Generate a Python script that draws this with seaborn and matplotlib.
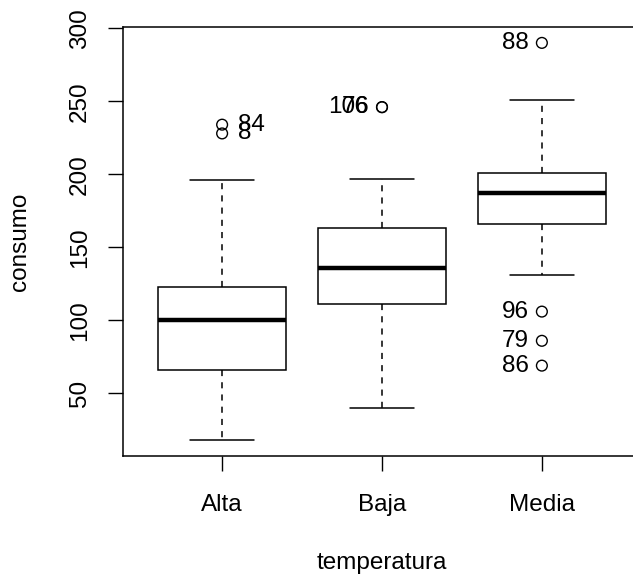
import matplotlib
matplotlib.use("Agg")
import matplotlib.pyplot as plt
import seaborn as sns
import pandas as pd

# ---- data ----
categorias = ["Alta", "Baja", "Media"]
minimo  = [18, 40, 131]
q1      = [66, 111, 166]
mediana = [100, 136, 187]
q3      = [123, 163, 201]
maximo  = [196, 197, 251]

out_cat   = ["Alta", "Alta", "Baja", "Baja", "Media", "Media", "Media", "Media"]
out_val   = [234, 228, 246, 246, 290, 106, 86, 69]
out_label = ["84", "8", "106", "76", "88", "96", "79", "86"]
out_side  = ["right", "right", "left", "left", "left", "left", "left", "left"]

yticks = [50, 100, 150, 200, 250, 300]

# ---- figure ----
sns.set_style("white")
plt.rcParams["font.family"] = ["Liberation Sans", "DejaVu Sans"]
FS = 17.5

W, H = 633, 575
fig = plt.figure(figsize=(W / 100, H / 100), dpi=100)
left, bottom, top = 123, 456, 27
axw = 518
ax = fig.add_axes([left / W, 1 - bottom / H, axw / W, (bottom - top) / H])

rows = []
for c, a, b, m, d, e in zip(categorias, minimo, q1, mediana, q3, maximo):
    for v in (a, b, m, d, e):
        rows.append({"temperatura": c, "consumo": v})
df = pd.DataFrame(rows)

sns.boxplot(data=df, x="temperatura", y="consumo", order=categorias,
            whis=(0, 100), showfliers=False, width=0.8,
            color="white", saturation=1, linecolor="black", linewidth=1.1,
            medianprops=dict(linewidth=3.2),
            whiskerprops=dict(linestyle=(0, (4, 4))),
            ax=ax)

pos = [categorias.index(c) for c in out_cat]
sns.scatterplot(x=pos, y=out_val, marker="o", s=60, facecolor="none",
                edgecolor="black", linewidth=1.0, legend=False, ax=ax, zorder=5)

for p, v, lab, side in zip(pos, out_val, out_label, out_side):
    if side == "right":
        ax.annotate(lab, (p, v), xytext=(16, 0), textcoords="offset pixels",
                    ha="left", va="center", fontsize=FS, color="black")
    else:
        ax.annotate(lab, (p, v), xytext=(-13, 0), textcoords="offset pixels",
                    ha="right", va="center", fontsize=FS, color="black")

allv = minimo + maximo + out_val
lo, hi = min(allv), max(allv)
pad = 0.04 * (hi - lo)
ax.set_ylim(lo - pad, hi + pad)
ax.set_xlim(-0.62, 2.62)

ax.set_yticks(yticks)
ax.set_yticklabels([str(t) for t in yticks])
ax.set_xticks(range(len(categorias)))
ax.set_xticklabels(categorias)

ax.tick_params(axis="both", direction="out", length=11, width=1.0,
               color="black", labelsize=FS, labelcolor="black",
               bottom=True, left=True, top=False, right=False)
ax.tick_params(axis="x", pad=28.5)
ax.tick_params(axis="y", labelrotation=90, pad=12)
for t in ax.get_yticklabels():
    t.set_va("center")
for t in ax.get_xticklabels():
    t.set_va("baseline")

for s in ax.spines.values():
    s.set_visible(True)
    s.set_color("black")
    s.set_linewidth(1.1)

ax.set_xlabel("temperatura", fontsize=FS, color="black")
ax.xaxis.set_label_coords(0.5, -(552 - bottom) / (bottom - top))
ax.set_ylabel("consumo", fontsize=FS, color="black")
ax.yaxis.set_label_coords((31 - left) / axw, 0.5)

fig.savefig("out.png", dpi=100, facecolor="white")
